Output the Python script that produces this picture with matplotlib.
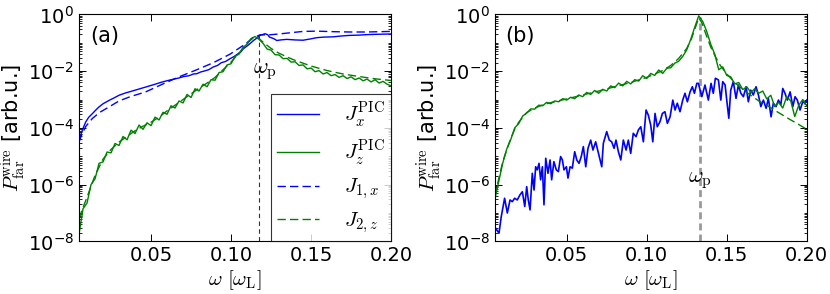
import numpy as np
import matplotlib
matplotlib.use("Agg")
from matplotlib import pyplot as plt
from matplotlib import ticker

plt.rcParams['mathtext.fontset'] = 'cm'
plt.rcParams['font.family'] = ['DejaVu Sans']
plt.rcParams['axes.unicode_minus'] = False

# ---------------- panel (a) data (log10 of P) ----------------
# Jx PIC (blue solid)
a_jx_w = [0.005, 0.006, 0.0071, 0.008, 0.0092, 0.011, 0.0133, 0.0155, 0.0175, 0.02,
          0.0238, 0.027, 0.03, 0.034, 0.0383, 0.0425, 0.0467, 0.052, 0.0571, 0.062,
          0.0675, 0.0705, 0.0738, 0.0765, 0.0786, 0.081, 0.083, 0.086, 0.089, 0.0915,
          0.094, 0.0965, 0.0994, 0.102, 0.104, 0.106, 0.1077, 0.111, 0.114, 0.1165,
          0.1181, 0.1213, 0.123, 0.124, 0.1265, 0.1286, 0.131, 0.1348, 0.14, 0.145,
          0.15, 0.1536, 0.158, 0.164, 0.169, 0.174, 0.18, 0.186, 0.192, 0.2]
a_jx_log = [-4.43, -4.25, -4.08, -3.95, -3.79, -3.63, -3.5, -3.37, -3.26, -3.15,
            -3.03, -2.94, -2.85, -2.77, -2.7, -2.63, -2.56, -2.47, -2.38, -2.31,
            -2.24, -2.19, -2.16, -2.1, -2.09, -2.03, -2.0, -1.95, -1.85, -1.8,
            -1.7, -1.66, -1.56, -1.48, -1.4, -1.33, -1.21, -1.07, -0.92, -0.82,
            -0.74, -0.68, -0.72, -0.8, -0.85, -0.92, -0.9, -0.88, -0.9, -0.91,
            -0.86, -0.82, -0.8, -0.79, -0.76, -0.74, -0.73, -0.71, -0.7, -0.69]

# J1,x model (blue dashed)
a_j1x_w = [0.005, 0.007, 0.0092, 0.0133, 0.018, 0.0238, 0.03, 0.037, 0.0467, 0.0571,
           0.0675, 0.0786, 0.089, 0.0994, 0.108, 0.114, 0.1181, 0.124, 0.13, 0.1348,
           0.145, 0.1536, 0.165, 0.174, 0.185, 0.2]
a_j1x_log = [-4.5, -4.2, -3.95, -3.67, -3.45, -3.26, -3.05, -2.9, -2.73, -2.46,
             -2.2, -1.95, -1.7, -1.4, -1.08, -0.82, -0.72, -0.72, -0.69, -0.66,
             -0.6, -0.59, -0.61, -0.62, -0.62, -0.6]

# Jz PIC (green solid), sampled every 0.0025 from 0.005 to 0.2
a_jz_w = np.linspace(0.005, 0.2, 79)
a_jz_log = [-7.75, -6.85, -6.65, -6.0, -5.8, -5.25, -5.2, -4.85, -4.88, -4.55,
            -4.62, -4.3, -4.42, -4.08, -4.2, -3.9, -4.05, -3.82, -3.92, -3.62,
            -3.72, -3.45, -3.52, -3.22, -3.3, -3.05, -3.12, -2.82, -2.93, -2.62,
            -2.7, -2.46, -2.55, -2.3, -2.32, -2.05, -2.02, -1.78, -1.74, -1.48,
            -1.4, -1.16, -1.05, -0.85, -0.78, -0.88, -1.02, -1.22, -1.26, -1.42,
            -1.43, -1.56, -1.55, -1.68, -1.67, -1.8, -1.78, -1.92, -1.89, -2.02,
            -1.98, -2.1, -2.05, -2.16, -2.12, -2.22, -2.16, -2.26, -2.2, -2.3,
            -2.24, -2.34, -2.28, -2.38, -2.3, -2.42, -2.36, -2.46, -2.52]

# J2,z model (green dashed)
a_j2z_w = [0.005, 0.0075, 0.01, 0.0125, 0.015, 0.02, 0.025, 0.03, 0.035, 0.04,
           0.045, 0.05, 0.055, 0.06, 0.065, 0.07, 0.075, 0.08, 0.085, 0.09,
           0.095, 0.1, 0.105, 0.11, 0.1135, 0.1165, 0.12, 0.125, 0.13, 0.135,
           0.14, 0.15, 0.16, 0.17, 0.18, 0.19, 0.2]
a_j2z_log = [-7.2, -6.8, -6.45, -6.05, -5.68, -5.1, -4.76, -4.5, -4.3, -4.1,
             -3.94, -3.8, -3.62, -3.4, -3.2, -3.0, -2.8, -2.6, -2.42, -2.22,
             -1.95, -1.68, -1.36, -1.02, -0.83, -0.8, -0.98, -1.2, -1.37, -1.5,
             -1.62, -1.82, -1.98, -2.1, -2.19, -2.27, -2.33]

# ---------------- panel (b) data (log10 of P) ----------------
b_jx_w = [0.0056, 0.0077, 0.0091, 0.0112, 0.0129, 0.0146, 0.016, 0.0175, 0.0191, 0.0208,
          0.0223, 0.0238, 0.025, 0.026, 0.0271, 0.0285, 0.0296, 0.0306, 0.0316, 0.0327,
          0.0337, 0.0348, 0.0358, 0.0369, 0.0383, 0.0396, 0.0406, 0.042, 0.0435, 0.0448,
          0.0462, 0.0473, 0.0483, 0.0498, 0.0508, 0.0521, 0.0535, 0.055, 0.0563, 0.0577,
          0.0591, 0.0604, 0.0619, 0.0633, 0.065, 0.0664, 0.0681, 0.0696, 0.0719, 0.0729,
          0.075, 0.0766, 0.0781, 0.0796, 0.0808, 0.0823, 0.0838, 0.0854, 0.0871, 0.0885,
          0.09, 0.0916, 0.0933, 0.0948, 0.0963, 0.0979, 0.0996, 0.101, 0.1025, 0.1038,
          0.1052, 0.1066, 0.1083, 0.1098, 0.1114, 0.1129, 0.1146, 0.1163, 0.1177, 0.1191,
          0.1208, 0.1225, 0.1239, 0.1254, 0.1271, 0.1285, 0.1298, 0.1313, 0.1323, 0.1344,
          0.1364, 0.1385, 0.1402, 0.1416, 0.1429, 0.1448, 0.1463, 0.1475, 0.149, 0.15,
          0.1513, 0.1525, 0.1541, 0.1558, 0.1573, 0.1588, 0.1604, 0.1621, 0.1635, 0.165,
          0.1666, 0.1683, 0.1698, 0.1713, 0.1729, 0.1746, 0.176, 0.1777, 0.1791, 0.1808,
          0.1823, 0.1838, 0.185, 0.1864, 0.1879, 0.1896, 0.1913, 0.1927, 0.1941, 0.1958,
          0.1975, 0.1989, 0.2]
b_jx_log = [-7.54, -7.71, -7.13, -6.48, -7.0, -6.54, -6.6, -6.48, -6.54, -6.36,
            -6.25, -6.77, -6.07, -6.54, -6.89, -5.6, -6.19, -5.37, -5.48, -5.25,
            -5.83, -5.37, -6.71, -5.07, -5.6, -5.13, -5.83, -5.19, -5.48, -5.54,
            -5.01, -5.13, -5.48, -5.37, -5.77, -5.37, -5.42, -4.84, -5.13, -5.25,
            -5.01, -4.66, -5.37, -4.72, -4.43, -4.78, -4.49, -4.84, -5.37, -4.54,
            -4.13, -4.43, -4.49, -4.72, -4.43, -4.84, -5.13, -4.43, -4.78, -4.43,
            -4.9, -4.19, -4.31, -4.07, -3.96, -4.49, -3.37, -3.55, -3.9, -4.49,
            -3.49, -3.96, -3.78, -3.49, -3.43, -3.84, -3.61, -3.02, -3.37, -3.13,
            -3.43, -3.02, -2.78, -3.08, -2.73, -2.55, -2.78, -2.43, -2.43, -2.9,
            -2.49, -3.02, -2.43, -2.78, -2.25, -2.31, -3.02, -2.37, -2.49, -3.02,
            -3.66, -2.67, -2.37, -2.96, -2.49, -2.78, -2.9, -2.55, -3.08, -2.67,
            -2.84, -2.55, -2.84, -3.25, -3.02, -3.31, -2.96, -3.61, -3.13, -3.25,
            -3.02, -3.19, -2.61, -2.78, -3.02, -2.73, -3.25, -2.9, -3.02, -3.37,
            -3.08, -3.13, -3.02]

# Jz PIC (green solid), sampled every 0.0025 from 0.005 to 0.2
b_jz_w = np.linspace(0.005, 0.2, 79)
b_jz_log = [-6.55, -5.9, -5.25, -4.75, -4.42, -4.0, -3.85, -3.58, -3.48, -3.33,
            -3.34, -3.2, -3.22, -3.1, -3.15, -3.05, -3.08, -2.97, -3.02, -2.92,
            -2.97, -2.84, -2.9, -2.75, -2.82, -2.68, -2.78, -2.64, -2.7, -2.52,
            -2.58, -2.42, -2.52, -2.36, -2.45, -2.3, -2.35, -2.16, -2.26, -2.08,
            -2.15, -1.96, -2.08, -1.9, -1.88, -1.72, -1.65, -1.48, -1.25, -0.88,
            -0.45, -0.05, -0.25, -0.6, -1.05, -1.4, -1.95, -1.85, -2.15, -2.2,
            -2.45, -2.4, -2.65, -2.55, -2.75, -2.62, -2.78, -2.7, -2.98, -2.85,
            -3.25, -3.1, -3.3, -2.9, -3.05, -3.6, -3.2, -3.0, -3.22]

# J2,z model (green dashed)
b_j2z_w = [0.005, 0.0075, 0.01, 0.0125, 0.015, 0.0175, 0.02, 0.025, 0.03, 0.035,
           0.04, 0.05, 0.06, 0.07, 0.08, 0.09, 0.1, 0.11, 0.115, 0.12,
           0.125, 0.128, 0.1305, 0.1325, 0.1345, 0.137, 0.14, 0.143, 0.146, 0.15,
           0.155, 0.16, 0.165, 0.17, 0.175, 0.18, 0.185, 0.19, 0.195, 0.2]
b_j2z_log = [-6.4, -5.8, -5.2, -4.78, -4.38, -4.05, -3.8, -3.46, -3.3, -3.19,
             -3.11, -2.98, -2.84, -2.7, -2.55, -2.4, -2.22, -1.98, -1.8, -1.55,
             -1.2, -0.85, -0.45, -0.12, -0.3, -0.7, -1.15, -1.5, -1.8, -2.1,
             -2.4, -2.65, -2.85, -3.05, -3.2, -3.38, -3.55, -3.72, -3.88, -4.05]

# plasma frequency and its marker labels
wp_a, wp_top_a = 0.1175, -0.75
wp_b, wp_top_b = 0.133, -0.1
wp_label_a = (0.1215, -2.0)
wp_label_b = (0.133, -5.85)


def p(vals):
    return 10.0 ** np.asarray(vals)


def style_axes(ax):
    ax.set_yscale('log')
    ax.set_xlim(0.005, 0.2)
    ax.set_ylim(1e-8, 1)
    ax.set_xticks([0.05, 0.10, 0.15, 0.20])
    ax.xaxis.set_major_formatter(ticker.FormatStrFormatter('%.2f'))
    ax.yaxis.set_major_locator(ticker.FixedLocator([1e-8, 1e-6, 1e-4, 1e-2, 1]))
    ax.yaxis.set_major_formatter(ticker.LogFormatterSciNotation())
    ax.yaxis.set_minor_locator(ticker.LogLocator(base=10, subs=np.arange(1, 10), numticks=100))
    ax.yaxis.set_minor_formatter(ticker.NullFormatter())
    ax.tick_params(which='both', direction='in', top=True, right=True, labelsize=14)
    ax.tick_params(which='major', length=5, width=0.7)
    ax.tick_params(which='minor', length=2.5, width=0.6)
    ax.set_xlabel(r'$\omega\ [\omega_{\rm L}]$', fontsize=15, labelpad=2)
    ax.set_ylabel(r'$P_{\rm far}^{\rm wire}$ [arb.u.]', fontsize=15, labelpad=0)
    for s in ax.spines.values():
        s.set_linewidth(0.8)


fig = plt.figure(figsize=(8.3, 2.94), dpi=100)
ax1 = fig.add_axes([0.0952, 0.179, 0.376, 0.772])
ax2 = fig.add_axes([0.596, 0.179, 0.376, 0.772])

dash = (0, (6, 3))

# panel (a)
ax1.plot([wp_a, wp_a], [1e-8, 10 ** wp_top_a], color='#333333', lw=0.8, ls=(0, (4, 3)))
ax1.plot(a_jx_w, p(a_jx_log), color='#0000ff', lw=1.0, label=r'$J_x^{\rm PIC}$')
ax1.plot(a_jz_w, p(a_jz_log), color='#008000', lw=1.0, label=r'$J_z^{\rm PIC}$')
ax1.plot(a_j1x_w, p(a_j1x_log), color='#0000ff', lw=1.0, ls=dash, label=r'$J_{1,x}$')
ax1.plot(a_j2z_w, p(a_j2z_log), color='#008000', lw=1.0, ls=dash, label=r'$J_{2,z}$')
style_axes(ax1)
ax1.text(0.035, 0.95, '(a)', transform=ax1.transAxes, fontsize=15, va='top')
ax1.text(wp_label_a[0], 10 ** wp_label_a[1], r'$\omega_{\rm p}$', fontsize=16,
         ha='center', va='center')
leg = ax1.legend(loc='lower right', fontsize=15, frameon=True, fancybox=False,
                 borderaxespad=0, handlelength=2.0, labelspacing=0.42,
                 borderpad=0.3, handletextpad=1.2)
leg.get_frame().set_edgecolor('black')
leg.get_frame().set_linewidth(0.8)

# panel (b)
ax2.plot([wp_b, wp_b], [1e-8, 10 ** wp_top_b], color='#999999', lw=2.0, ls=(0, (2.5, 1.5)))
ax2.plot(b_jx_w, p(b_jx_log), color='#0000ff', lw=1.2)
ax2.plot(b_jz_w, p(b_jz_log), color='#008000', lw=1.0)
ax2.plot(b_j2z_w, p(b_j2z_log), color='#008000', lw=1.0, ls=dash)
style_axes(ax2)
ax2.text(0.035, 0.95, '(b)', transform=ax2.transAxes, fontsize=15, va='top')
ax2.text(wp_label_b[0], 10 ** wp_label_b[1], r'$\omega_{\rm p}$', fontsize=16,
         ha='center', va='center')

fig.savefig('out.png', dpi=100)
